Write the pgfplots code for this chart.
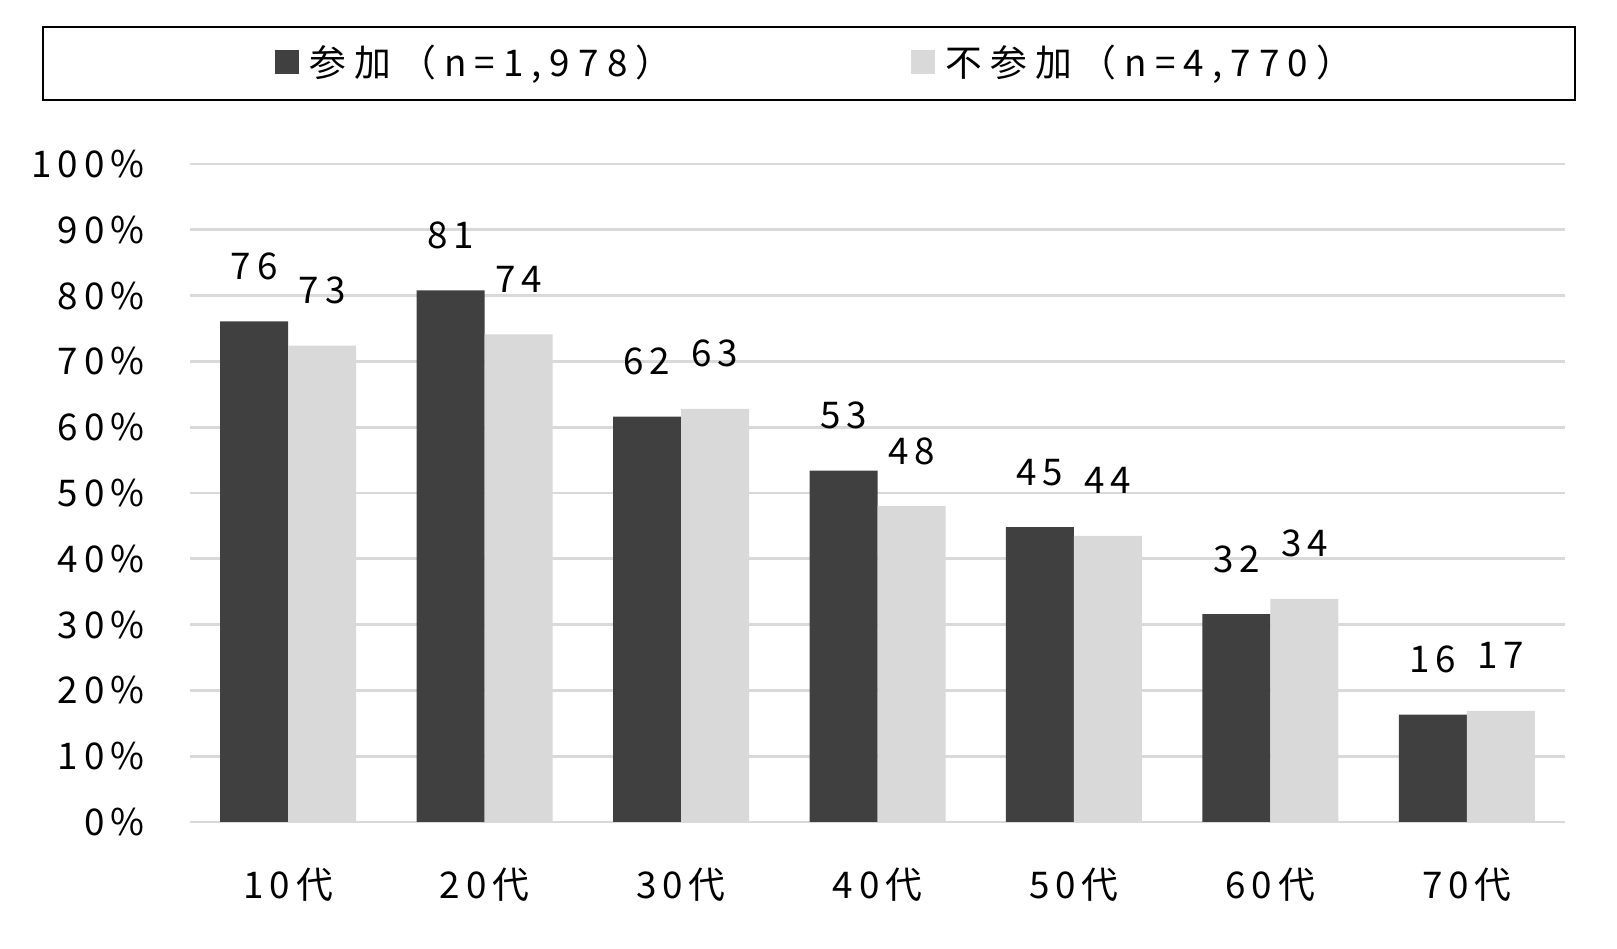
\documentclass[border=0pt]{standalone}
\usepackage{fontspec}
\setmainfont{Noto Sans CJK JP}[LetterSpace=16]
\usepackage{pgfplots}
\pgfplotsset{compat=1.18}
\usepackage{pgfplotstable}
\definecolor{darkbar}{HTML}{404040}
\definecolor{lightbar}{HTML}{D9D9D9}
\definecolor{gridc}{HTML}{D9D9D9}
\newcommand\cf{\fontsize{18.4bp}{22bp}\selectfont}
\newcommand\lf{\fontsize{18.4bp}{22bp}\selectfont\addfontfeatures{LetterSpace=22}}

\pgfplotstableread{
x y label
0 76.1 76
1 80.8 81
2 61.6 62
3 53.4 53
4 44.8 45
5 31.6 32
6 16.3 16
}\joined
\pgfplotstableread{
x y label
0 72.4 73
1 74.1 74
2 62.8 63
3 48.0 48
4 43.5 44
5 33.9 34
6 16.9 17
}\notjoined

\begin{document}
\begin{tikzpicture}
\path[use as bounding box] (0,0) rectangle (808.5bp,474.5bp);
\draw[black, line width=0.75bp] (21.5bp,424.5bp) rectangle (787.5bp,461bp);
\begin{axis}[
  at={(95bp,63.5bp)}, anchor=south west, scale only axis,
  width=687.5bp, height=329bp,
  xmin=-0.5, xmax=6.5, ymin=0, ymax=100,
  ybar=0pt, bar width=34bp,
  axis line style={draw=none}, major tick length=0pt,
  ymajorgrids, grid style={gridc, line width=1.35bp},
  ytick={0,10,...,100},
  yticklabel={\pgfmathprintnumber{\tick}\%},
  xtick={0,...,6},
  xticklabels={10代,20代,30代,40代,50代,60代,70代},
  /pgf/number format/assume math mode=true,
  tick label style={font=\cf},
  yticklabel style={anchor=base east, inner sep=0pt, xshift=-22.6bp, yshift=-6.75bp},
  xticklabel style={anchor=base, inner sep=0pt, yshift=-38.5bp},
  nodes near coords, point meta=explicit symbolic,
  nodes near coords style={font=\cf, anchor=base, inner sep=0pt, yshift=21bp, text=black},
  legend columns=2,
  legend style={draw=none, fill=none, font=\lf, inner sep=0pt,
    at={(0.0618,1.155)}, anchor=west,
    nodes={inner sep=0pt},
    /tikz/every odd column/.append style={column sep=5bp},
    /tikz/every even column/.append style={column sep=119.5bp}},
  legend image code/.code={\fill[#1, draw=none] (0bp,-6bp) rectangle (12bp,6bp);},
]
\addplot[fill=darkbar, draw=none] table[x=x, y=y, meta=label] {\joined};
\addlegendentry{参加（n=1,978）}
\addplot[fill=lightbar, draw=none] table[x=x, y=y, meta=label] {\notjoined};
\addlegendentry{不参加（n=4,770）}
\end{axis}
\end{tikzpicture}
\end{document}
